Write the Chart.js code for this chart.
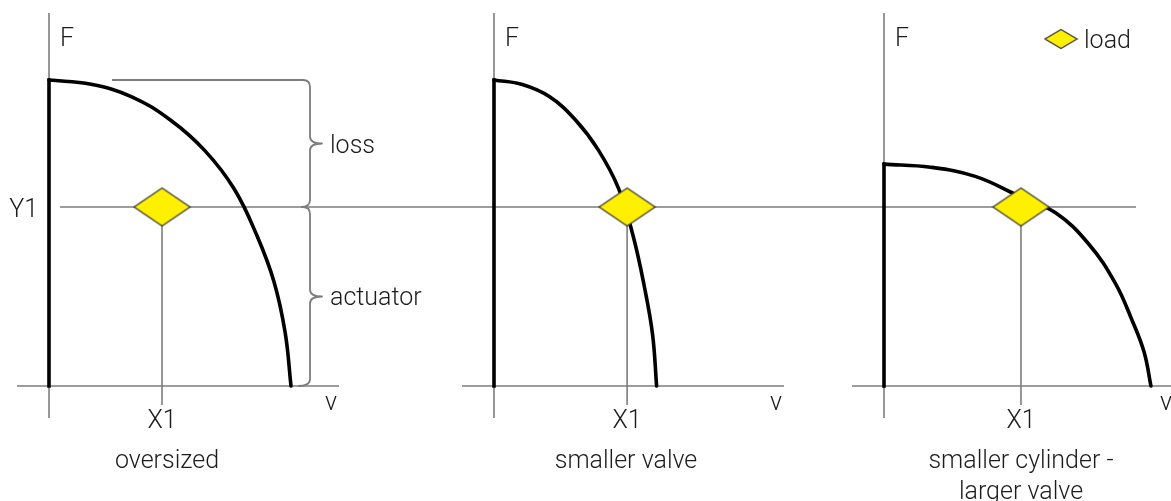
<!DOCTYPE html>
<html>
<head>
<meta charset="utf-8">
<script src="https://cdn.jsdelivr.net/npm/chart.js@4.4.0/dist/chart.umd.min.js"></script>
<style>
  html, body { margin: 0; padding: 0; background: #ffffff; }
  #wrap { position: relative; width: 1171px; height: 501px; overflow: hidden; background: #fff; }
  #wrap canvas { position: absolute; top: 0; }
</style>
</head>
<body>
<div id="wrap">
  <canvas id="c1" width="440" height="501" style="left:0px"></canvas>
  <canvas id="c2" width="380" height="501" style="left:440px"></canvas>
  <canvas id="c3" width="351" height="501" style="left:820px"></canvas>
</div>
<script>
// ---------------- DATA (F and v in relative units) ----------------
const panelNames = [['oversized'], ['smaller valve'], ['smaller cylinder -', 'larger valve']];

// actuator capability curves (velocity v, force F)
const oversizedV = [0, 17.4, 34.2, 50, 64.3, 76.6, 86, 93, 97.6, 100];
const oversizedF = [100, 98.6, 94.5, 87, 77, 64.3, 49, 34, 17.4, 0];

const smallerValveV = [0, 11.7, 23, 33.6, 43.2, 51.5, 57.5, 62, 65.5, 67.2];
const smallerValveF = [100, 98.5, 94.5, 87, 77, 64.5, 49, 33, 17, 0];

const smallerCylV = [0, 19.2, 37.7, 55.2, 70.9, 84.5, 95.5, 102.5, 107.5, 110.3];
const smallerCylF = [72.5, 71.5, 68.5, 62.3, 56.6, 46.5, 33.7, 21.5, 11, 0];

// load point: X1 per panel, common Y1
const loadX1 = [46.7, 55, 56.6];
const loadY1 = 58.5;

// text labels
const forceLabel = 'F';
const velocityLabel = 'v';
const x1Label = 'X1';
const y1Label = 'Y1';
const lossLabel = 'loss';
const actuatorLabel = 'actuator';
const legendLabel = 'load';

// ---------------- STYLE / LAYOUT ----------------
const FONT = '300 25px Roboto, "Liberation Sans", Arial, sans-serif';
const TEXT_COLOR = '#1c1c1c';
const GRID_COLOR = '#7d7d7d';
const YELLOW = '#fff000';

function makeDiamond(hw, hh) {
  const c = document.createElement('canvas');
  c.width = Math.ceil(hw * 2 + 3);
  c.height = Math.ceil(hh * 2 + 3);
  const g = c.getContext('2d');
  const cx = c.width / 2, cy = c.height / 2;
  g.beginPath();
  g.moveTo(cx, cy - hh);
  g.lineTo(cx + hw, cy);
  g.lineTo(cx, cy + hh);
  g.lineTo(cx - hw, cy);
  g.closePath();
  g.fillStyle = YELLOW;
  g.fill();
  g.lineWidth = 1.3;
  g.strokeStyle = '#3b3b30';
  g.stroke();
  return c;
}
const bigDiamond = makeDiamond(28, 19);
const smallDiamond = makeDiamond(16, 9.5);

const curves = [
  { v: oversizedV, f: oversizedF },
  { v: smallerValveV, f: smallerValveF },
  { v: smallerCylV, f: smallerCylF }
];

// layout per panel (pixels inside each canvas); x range 0..115, y range 0..100
const layouts = [
  { canvas: 'c1', pad: { left: 49, right: 112.7, top: 80, bottom: 115 }, y1From: 60, y1To: 440, nameX: 167 },
  { canvas: 'c2', pad: { left: 54, right: 47.7, top: 80, bottom: 115 }, y1From: 0, y1To: 380, nameX: 186 },
  { canvas: 'c3', pad: { left: 64, right: 8.7, top: 80, bottom: 115 }, y1From: 0, y1To: 316, nameX: 201 }
];

function toPoints(vs, fs) {
  return vs.map((v, i) => ({ x: v, y: fs[i] }));
}

function line(ctx, x1, y1, x2, y2) {
  ctx.beginPath();
  ctx.moveTo(x1, y1);
  ctx.lineTo(x2, y2);
  ctx.stroke();
}

function makePlugin(idx) {
  return {
    id: 'decor' + idx,
    beforeDatasetsDraw(chart) {
      const ctx = chart.ctx;
      const xs = chart.scales.x, ys = chart.scales.y;
      const x0 = xs.getPixelForValue(0);
      const y0 = ys.getPixelForValue(0);
      const yL = ys.getPixelForValue(loadY1);
      const xL = xs.getPixelForValue(loadX1[idx]);
      const lay = layouts[idx];
      ctx.save();
      ctx.strokeStyle = GRID_COLOR;
      ctx.lineWidth = 1.6;
      line(ctx, x0, 13, x0, y0 + 32);            // F axis
      line(ctx, x0 - 32, y0, x0 + 290, y0);      // v axis
      line(ctx, lay.y1From, yL, lay.y1To, yL);   // Y1 line
      line(ctx, xL, yL, xL, y0 + 19);            // X1 line
      ctx.restore();
    },
    afterDatasetsDraw(chart) {
      const ctx = chart.ctx;
      const xs = chart.scales.x, ys = chart.scales.y;
      const x0 = xs.getPixelForValue(0);
      const y0 = ys.getPixelForValue(0);
      const yL = ys.getPixelForValue(loadY1);
      const xL = xs.getPixelForValue(loadX1[idx]);
      const lay = layouts[idx];
      ctx.save();
      ctx.font = FONT;
      ctx.fillStyle = TEXT_COLOR;
      ctx.textBaseline = 'alphabetic';
      ctx.textAlign = 'left';
      ctx.fillText(forceLabel, x0 + 11, 46);
      ctx.textAlign = 'center';
      ctx.fillText(velocityLabel, x0 + 282, 410);
      ctx.fillText(x1Label, xL, 428);
      panelNames[idx].forEach((n, k) => ctx.fillText(n, lay.nameX, 468 + k * 31));

      if (idx === 0) {
        ctx.textAlign = 'right';
        ctx.fillText(y1Label, 38, 217);
        const c = curves[0];
        const yT = ys.getPixelForValue(c.f[0]);
        const bx = xs.getPixelForValue(c.v[c.v.length - 1]) + 19;
        const r = 7;
        ctx.strokeStyle = GRID_COLOR;
        ctx.lineWidth = 1.8;
        ctx.lineJoin = 'round';
        const brace = (ya, yb, startX, endX) => {
          const yc = (ya + yb) / 2;
          ctx.beginPath();
          ctx.moveTo(startX, ya);
          ctx.lineTo(bx - r, ya);
          ctx.quadraticCurveTo(bx, ya, bx, ya + r);
          ctx.lineTo(bx, yc - r);
          ctx.quadraticCurveTo(bx, yc, bx + 12, yc);
          ctx.quadraticCurveTo(bx, yc, bx, yc + r);
          ctx.lineTo(bx, yb - r);
          ctx.quadraticCurveTo(bx, yb, endX, yb);
          ctx.stroke();
        };
        brace(yT, yL, 112, bx - 9);
        brace(yL, y0, bx - 9, bx - 12);
        ctx.textAlign = 'left';
        ctx.fillStyle = TEXT_COLOR;
        ctx.fillText(lossLabel, bx + 20, 153);
        ctx.fillText(actuatorLabel, bx + 20, 305);
      }
      if (idx === 2) {
        ctx.drawImage(smallDiamond, 1061 - 820 - smallDiamond.width / 2, 39 - smallDiamond.height / 2);
        ctx.textAlign = 'left';
        ctx.fillText(legendLabel, 1084 - 820, 48);
      }
      ctx.restore();
    }
  };
}

layouts.forEach((lay, idx) => {
  const c = curves[idx];
  const cfg = {
    type: 'scatter',
    data: {
      datasets: [
        {
          label: legendLabel,
          data: [{ x: loadX1[idx], y: loadY1 }],
          pointStyle: bigDiamond,
          pointRadius: 20,
          showLine: false,
          clip: false
        },
        {
          label: 'capability',
          data: toPoints(c.v, c.f),
          showLine: true,
          borderColor: '#000000',
          borderWidth: 3.6,
          pointRadius: 0,
          tension: 0.4,
          capBezierPoints: false,
          borderCapStyle: 'round',
          clip: false
        },
        {
          label: 'max force',
          data: [{ x: 0, y: 0 }, { x: c.v[0], y: c.f[0] }],
          showLine: true,
          borderColor: '#000000',
          borderWidth: 3.6,
          pointRadius: 0,
          tension: 0,
          borderCapStyle: 'square',
          clip: false
        }
      ]
    },
    options: {
      responsive: false,
      animation: false,
      devicePixelRatio: 1,
      layout: { padding: lay.pad, autoPadding: false },
      scales: {
        x: { type: 'linear', min: 0, max: 115, display: false },
        y: { type: 'linear', min: 0, max: 100, display: false }
      },
      plugins: {
        legend: { display: false },
        tooltip: { enabled: false }
      },
      events: []
    },
    plugins: [makePlugin(idx)]
  };
  new Chart(document.getElementById(lay.canvas), cfg);
});
</script>
</body>
</html>
